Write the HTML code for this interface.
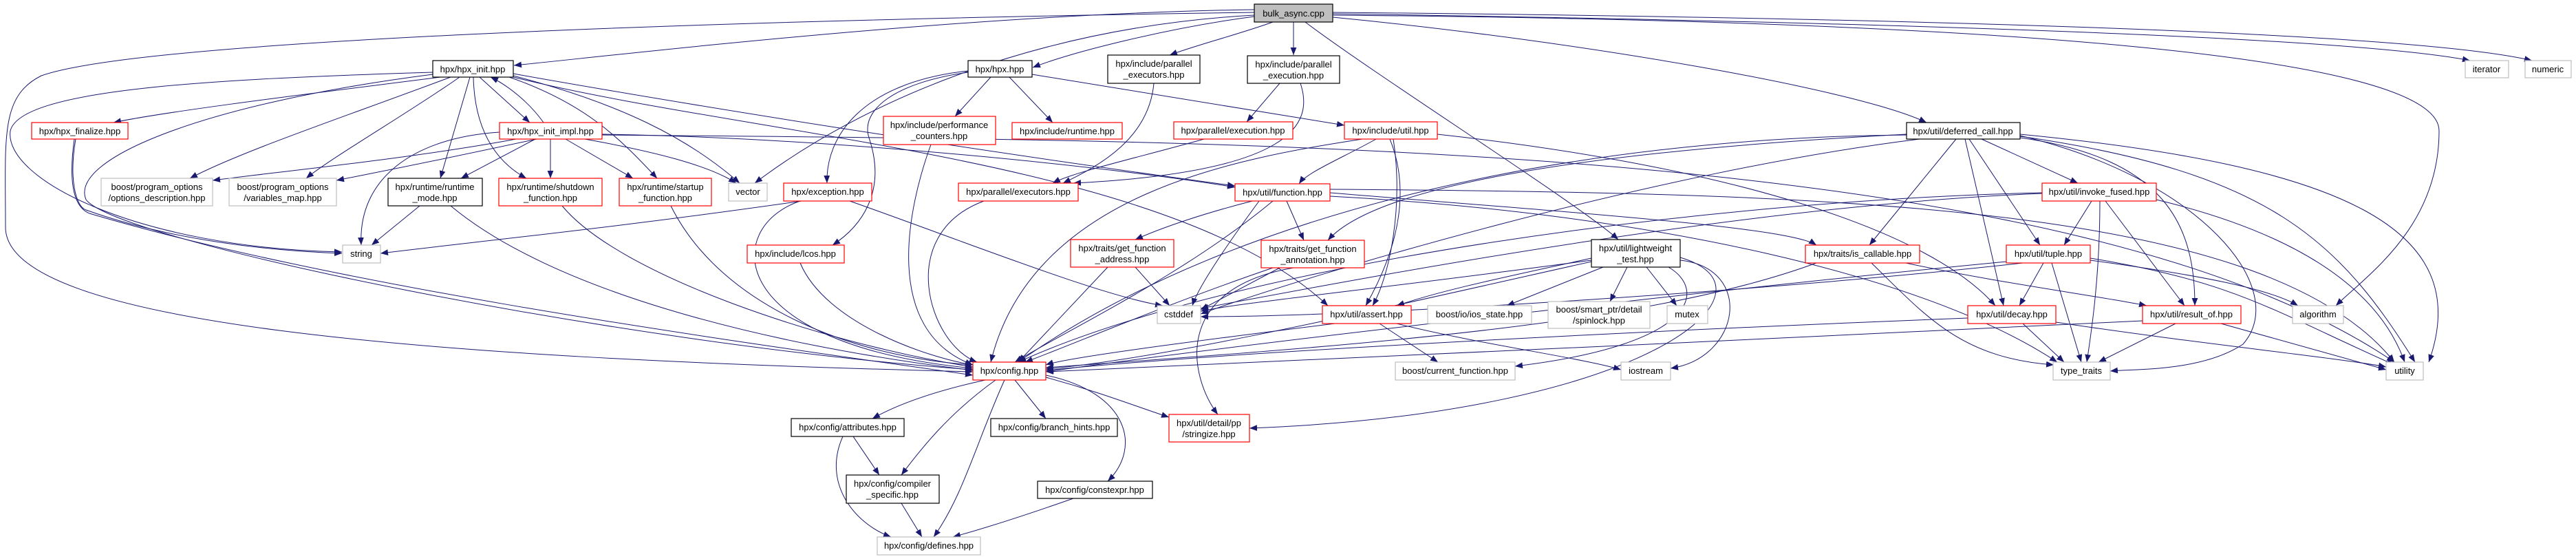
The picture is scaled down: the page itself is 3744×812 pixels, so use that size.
<!DOCTYPE html>
<html><head><meta charset="utf-8"><style>
html,body{margin:0;padding:0;background:#fff;}
svg{display:block;}
text{font-family:"Liberation Sans",sans-serif;font-size:13px;fill:#000;text-anchor:middle;}
.r{fill:#fff;stroke:#ff0000;stroke-width:1.2}
.b{fill:#fff;stroke:#000;stroke-width:1.2}
.g{fill:#fff;stroke:#bfbfbf;stroke-width:1.2}
path.e{fill:none;stroke:#191970;stroke-width:1;marker-end:url(#a)}
</style></head><body>
<svg width="3744" height="812" viewBox="0 0 3744 812" xmlns="http://www.w3.org/2000/svg">
<defs><marker id="a" viewBox="0 0 10 10" refX="10" refY="5" markerWidth="11" markerHeight="11" markerUnits="userSpaceOnUse" orient="auto"><path d="M0,1L10,5L0,9z" fill="#191970"/></marker></defs>
<g>
<path class="e" d="M1823,14 C1400,20 900,80 747,95"/>
<path class="e" d="M1823,24 C1700,40 1560,75 1501,98"/>
<path class="e" d="M1850,32 C1800,50 1740,65 1700,80"/>
<path class="e" d="M1880,32 L1880,80"/>
<path class="e" d="M1897,32 C2000,110 2300,300 2352,348"/>
<path class="e" d="M1937,25 C2300,60 2700,130 2800,178"/>
<path class="e" d="M1937,20 C2600,30 3400,50 3590,88"/>
<path class="e" d="M1937,18 C2700,25 3500,45 3680,88"/>
<path class="e" d="M1937,22 C2900,30 3545,80 3545,190 C3545,330 3440,400 3395,444"/>
<path class="e" d="M1823,22 C1500,40 1250,150 1097,266"/>
<path class="e" d="M1823,18 C1000,30 200,60 60,110 C0,140 8,200 8,330 C8,470 600,520 1414,540"/>
<path class="e" d="M629,105 C300,115 30,130 15,190 C5,260 200,360 497,366"/>
<path class="e" d="M629,108 C300,150 100,230 125,290 C170,350 900,500 1414,537"/>
<path class="e" d="M110,202 C100,260 110,300 125,305 C250,350 400,365 497,368"/>
<path class="e" d="M108,202 C100,260 105,300 130,310 C500,420 1100,500 1414,545"/>
<path class="e" d="M640,112 C500,130 250,160 165,178"/>
<path class="e" d="M655,112 C500,170 350,220 276,259"/>
<path class="e" d="M668,112 C600,160 480,230 445,259"/>
<path class="e" d="M683,112 L640,259"/>
<path class="e" d="M688,112 C690,200 730,240 765,259"/>
<path class="e" d="M697,112 L770,178"/>
<path class="e" d="M790,178 C770,150 740,125 713,112"/>
<path class="e" d="M740,112 C850,150 900,200 955,259"/>
<path class="e" d="M746,110 C900,150 1000,200 1075,266"/>
<path class="e" d="M746,107 C1100,170 1500,230 1795,270"/>
<path class="e" d="M746,112 C1100,200 1700,230 1930,444"/>
<path class="e" d="M750,202 C600,230 400,250 309,262"/>
<path class="e" d="M780,202 C650,230 550,250 489,262"/>
<path class="e" d="M778,202 L670,259"/>
<path class="e" d="M800,202 L800,259"/>
<path class="e" d="M822,202 L920,259"/>
<path class="e" d="M726,192 C600,200 520,260 525,356"/>
<path class="e" d="M850,202 C950,220 1030,240 1070,266"/>
<path class="e" d="M875,195 C1200,200 1600,240 1795,272"/>
<path class="e" d="M875,196 C1800,205 3000,200 3480,526"/>
<path class="e" d="M610,299 L540,356"/>
<path class="e" d="M655,299 C800,420 1100,500 1414,538"/>
<path class="e" d="M817,299 C900,400 1200,500 1414,533"/>
<path class="e" d="M975,299 C1050,450 1250,520 1414,530"/>
<path class="e" d="M1407,103 C1250,120 1200,200 1202,266"/>
<path class="e" d="M1407,105 C1300,120 1250,160 1263,200 C1290,280 1250,330 1210,356"/>
<path class="e" d="M1440,112 L1388,169"/>
<path class="e" d="M1467,112 L1530,178"/>
<path class="e" d="M1500,108 C1700,140 1850,165 1954,182"/>
<path class="e" d="M1677,121 C1670,200 1600,240 1545,266"/>
<path class="e" d="M1860,121 L1812,177"/>
<path class="e" d="M1890,121 C1910,180 1880,250 1560,266"/>
<path class="e" d="M1750,202 C1650,230 1560,250 1530,266"/>
<path class="e" d="M1353,210 C1320,300 1280,480 1414,530"/>
<path class="e" d="M1430,292 C1300,340 1350,500 1420,526"/>
<path class="e" d="M1165,292 C900,330 700,350 553,368"/>
<path class="e" d="M1163,292 C1050,330 1050,500 1414,535"/>
<path class="e" d="M1235,292 C1400,350 1600,430 1690,444"/>
<path class="e" d="M1163,382 C1200,470 1350,520 1414,530"/>
<path class="e" d="M2000,202 C1950,230 1900,250 1888,267"/>
<path class="e" d="M2771,195 C2300,220 2000,270 1930,349"/>
<path class="e" d="M2025,202 C2040,300 2020,400 1995,444"/>
<path class="e" d="M2020,202 C2060,300 2010,400 1985,444"/>
<path class="e" d="M1980,202 C1800,230 1500,280 1440,526"/>
<path class="e" d="M2089,195 C2500,240 2800,330 2900,444"/>
<path class="e" d="M1820,292 C1750,310 1690,330 1650,348"/>
<path class="e" d="M1870,292 L1895,349"/>
<path class="e" d="M1850,292 C1720,400 1550,480 1475,526"/>
<path class="e" d="M1830,292 C1780,360 1740,420 1733,444"/>
<path class="e" d="M1933,280 C2300,310 2600,330 2640,356"/>
<path class="e" d="M1933,285 C2400,310 2800,400 2990,526"/>
<path class="e" d="M1933,275 C2700,280 3300,300 3480,526"/>
<path class="e" d="M1610,388 L1480,526"/>
<path class="e" d="M1650,388 L1700,444"/>
<path class="e" d="M1850,389 C1700,440 1560,500 1490,526"/>
<path class="e" d="M1860,389 L1745,450"/>
<path class="e" d="M1880,389 C1700,420 1730,550 1770,602"/>
<path class="e" d="M2313,375 C2200,400 2100,420 2030,444"/>
<path class="e" d="M2330,388 L2190,444"/>
<path class="e" d="M2365,388 L2340,438"/>
<path class="e" d="M2393,388 L2437,444"/>
<path class="e" d="M2425,388 C2480,420 2470,500 2202,532"/>
<path class="e" d="M2442,378 C2550,390 2530,520 2428,535"/>
<path class="e" d="M2313,380 C2000,450 1700,520 1520,536"/>
<path class="e" d="M2313,378 C2000,420 1800,440 1745,452"/>
<path class="e" d="M2442,374 C2600,420 2400,600 1816,622"/>
<path class="e" d="M1940,470 C1700,500 1550,520 1520,530"/>
<path class="e" d="M2005,470 L2090,526"/>
<path class="e" d="M2030,470 C2150,500 2300,520 2356,537"/>
<path class="e" d="M2843,202 L2717,356"/>
<path class="e" d="M2880,202 L3020,266"/>
<path class="e" d="M2862,202 L2965,356"/>
<path class="e" d="M2856,202 L2912,444"/>
<path class="e" d="M2936,200 C3150,230 3190,330 3190,444"/>
<path class="e" d="M2936,197 C3200,260 3330,420 3260,500 C3200,540 3100,536 3067,539"/>
<path class="e" d="M2936,198 C3300,250 3400,350 3510,526"/>
<path class="e" d="M2936,195 C3400,240 3600,330 3530,526"/>
<path class="e" d="M2771,196 C2300,200 1800,300 1480,526"/>
<path class="e" d="M2790,202 C2400,250 1900,400 1745,456"/>
<path class="e" d="M3040,292 L3000,356"/>
<path class="e" d="M3060,292 L3175,444"/>
<path class="e" d="M3052,292 C3052,400 3040,480 3033,526"/>
<path class="e" d="M3134,290 C3300,330 3450,400 3495,526"/>
<path class="e" d="M2968,280 C2500,290 1800,380 1480,526"/>
<path class="e" d="M2968,281 C2500,300 1900,420 1745,448"/>
<path class="e" d="M2720,382 C2800,460 2850,520 2985,530"/>
<path class="e" d="M2770,382 C2900,410 3050,430 3120,444"/>
<path class="e" d="M2640,382 C2400,470 2000,500 1520,534"/>
<path class="e" d="M2970,382 L2935,444"/>
<path class="e" d="M2982,382 L3025,526"/>
<path class="e" d="M3038,378 C3200,400 3300,420 3340,444"/>
<path class="e" d="M3038,375 C3250,410 3300,450 3480,530"/>
<path class="e" d="M2916,380 C2500,420 1800,500 1520,540"/>
<path class="e" d="M2940,382 C2600,420 2000,460 1745,460"/>
<path class="e" d="M2940,470 L3000,526"/>
<path class="e" d="M2988,468 C3200,500 3400,520 3468,533"/>
<path class="e" d="M2860,462 C2400,480 1800,510 1520,538"/>
<path class="e" d="M3162,470 L3050,526"/>
<path class="e" d="M3228,470 L3468,537"/>
<path class="e" d="M3114,466 C2600,490 2000,520 1520,540"/>
<path class="e" d="M1432,552 C1350,570 1300,590 1268,608"/>
<path class="e" d="M1447,552 C1380,600 1340,650 1310,690"/>
<path class="e" d="M1475,552 L1520,608"/>
<path class="e" d="M1520,548 C1600,570 1650,590 1699,606"/>
<path class="e" d="M1520,545 C1640,570 1660,650 1610,699"/>
<path class="e" d="M1460,552 C1420,640 1400,720 1357,780"/>
<path class="e" d="M1240,634 L1278,690"/>
<path class="e" d="M1225,634 C1195,700 1240,760 1295,780"/>
<path class="e" d="M1310,731 L1340,780"/>
<path class="e" d="M1560,724 C1500,745 1440,765 1385,780"/>
</g>
<g>
<rect x="1823" y="6" width="114" height="26" fill="#bfbfbf" stroke="#000" stroke-width="1.2"/><text x="1880" y="24">bulk_async.cpp</text>
<rect class="b" x="629" y="88" width="117" height="24"/><text x="687" y="105">hpx/hpx_init.hpp</text>
<rect class="b" x="1407" y="88" width="93" height="24"/><text x="1453" y="105">hpx/hpx.hpp</text>
<rect class="b" x="1610" y="80" width="134" height="41"/><text x="1677" y="97">hpx/include/parallel</text><text x="1677" y="113">_executors.hpp</text>
<rect class="b" x="1813" y="81" width="134" height="40"/><text x="1880" y="98">hpx/include/parallel</text><text x="1880" y="114">_execution.hpp</text>
<rect class="g" x="3583" y="88" width="63" height="25"/><text x="3614" y="105">iterator</text>
<rect class="g" x="3670" y="88" width="67" height="25"/><text x="3703" y="105">numeric</text>
<rect class="r" x="46" y="178" width="140" height="24"/><text x="116" y="195">hpx/hpx_finalize.hpp</text>
<rect class="r" x="726" y="178" width="149" height="24"/><text x="800" y="195">hpx/hpx_init_impl.hpp</text>
<rect class="r" x="1284" y="169" width="163" height="41"/><text x="1365" y="186">hpx/include/performance</text><text x="1365" y="202">_counters.hpp</text>
<rect class="r" x="1471" y="178" width="160" height="24"/><text x="1551" y="195">hpx/include/runtime.hpp</text>
<rect class="r" x="1706" y="177" width="173" height="25"/><text x="1792" y="194">hpx/parallel/execution.hpp</text>
<rect class="r" x="1954" y="177" width="135" height="25"/><text x="2021" y="194">hpx/include/util.hpp</text>
<rect class="b" x="2771" y="178" width="165" height="24"/><text x="2853" y="195">hpx/util/deferred_call.hpp</text>
<rect class="g" x="147" y="259" width="162" height="40"/><text x="228" y="276">boost/program_options</text><text x="228" y="292">/options_description.hpp</text>
<rect class="g" x="333" y="259" width="156" height="40"/><text x="411" y="276">boost/program_options</text><text x="411" y="292">/variables_map.hpp</text>
<rect class="b" x="564" y="259" width="137" height="40"/><text x="632" y="276">hpx/runtime/runtime</text><text x="632" y="292">_mode.hpp</text>
<rect class="r" x="725" y="259" width="150" height="40"/><text x="800" y="276">hpx/runtime/shutdown</text><text x="800" y="292">_function.hpp</text>
<rect class="r" x="900" y="259" width="134" height="40"/><text x="967" y="276">hpx/runtime/startup</text><text x="967" y="292">_function.hpp</text>
<rect class="g" x="1059" y="266" width="56" height="26"/><text x="1087" y="283">vector</text>
<rect class="r" x="1139" y="266" width="128" height="26"/><text x="1203" y="283">hpx/exception.hpp</text>
<rect class="r" x="1393" y="266" width="174" height="26"/><text x="1480" y="283">hpx/parallel/executors.hpp</text>
<rect class="r" x="1795" y="267" width="138" height="25"/><text x="1864" y="284">hpx/util/function.hpp</text>
<rect class="r" x="2968" y="266" width="166" height="26"/><text x="3051" y="283">hpx/util/invoke_fused.hpp</text>
<rect class="g" x="498" y="356" width="55" height="26"/><text x="525" y="373">string</text>
<rect class="r" x="1086" y="356" width="141" height="26"/><text x="1156" y="373">hpx/include/lcos.hpp</text>
<rect class="r" x="1556" y="348" width="150" height="40"/><text x="1631" y="365">hpx/traits/get_function</text><text x="1631" y="381">_address.hpp</text>
<rect class="r" x="1833" y="349" width="150" height="40"/><text x="1908" y="366">hpx/traits/get_function</text><text x="1908" y="382">_annotation.hpp</text>
<rect class="b" x="2313" y="348" width="129" height="40"/><text x="2377" y="365">hpx/util/lightweight</text><text x="2377" y="381">_test.hpp</text>
<rect class="r" x="2624" y="356" width="166" height="26"/><text x="2707" y="373">hpx/traits/is_callable.hpp</text>
<rect class="r" x="2916" y="356" width="122" height="26"/><text x="2977" y="373">hpx/util/tuple.hpp</text>
<rect class="g" x="1682" y="444" width="63" height="26"/><text x="1713" y="461">cstddef</text>
<rect class="r" x="1922" y="444" width="129" height="26"/><text x="1986" y="461">hpx/util/assert.hpp</text>
<rect class="g" x="2075" y="444" width="151" height="26"/><text x="2150" y="461">boost/io/ios_state.hpp</text>
<rect class="g" x="2250" y="438" width="148" height="39"/><text x="2324" y="454">boost/smart_ptr/detail</text><text x="2324" y="470">/spinlock.hpp</text>
<rect class="g" x="2423" y="444" width="59" height="26"/><text x="2452" y="461">mutex</text>
<rect class="r" x="2860" y="444" width="128" height="26"/><text x="2924" y="461">hpx/util/decay.hpp</text>
<rect class="r" x="3114" y="444" width="143" height="26"/><text x="3185" y="461">hpx/util/result_of.hpp</text>
<rect class="g" x="3332" y="444" width="74" height="26"/><text x="3369" y="461">algorithm</text>
<rect class="r" x="1414" y="526" width="106" height="26"/><text x="1467" y="543">hpx/config.hpp</text>
<rect class="g" x="2028" y="526" width="174" height="26"/><text x="2115" y="543">boost/current_function.hpp</text>
<rect class="g" x="2356" y="526" width="72" height="26"/><text x="2392" y="543">iostream</text>
<rect class="g" x="2984" y="526" width="83" height="26"/><text x="3025" y="543">type_traits</text>
<rect class="g" x="3468" y="526" width="54" height="26"/><text x="3495" y="543">utility</text>
<rect class="b" x="1150" y="608" width="164" height="26"/><text x="1232" y="625">hpx/config/attributes.hpp</text>
<rect class="b" x="1440" y="608" width="184" height="26"/><text x="1532" y="625">hpx/config/branch_hints.hpp</text>
<rect class="r" x="1699" y="602" width="117" height="40"/><text x="1757" y="619">hpx/util/detail/pp</text><text x="1757" y="635">/stringize.hpp</text>
<rect class="b" x="1230" y="690" width="135" height="41"/><text x="1297" y="707">hpx/config/compiler</text><text x="1297" y="723">_specific.hpp</text>
<rect class="b" x="1508" y="699" width="167" height="25"/><text x="1591" y="716">hpx/config/constexpr.hpp</text>
<rect class="g" x="1275" y="780" width="150" height="26"/><text x="1350" y="797">hpx/config/defines.hpp</text>
</g>
</svg>
</body></html>
